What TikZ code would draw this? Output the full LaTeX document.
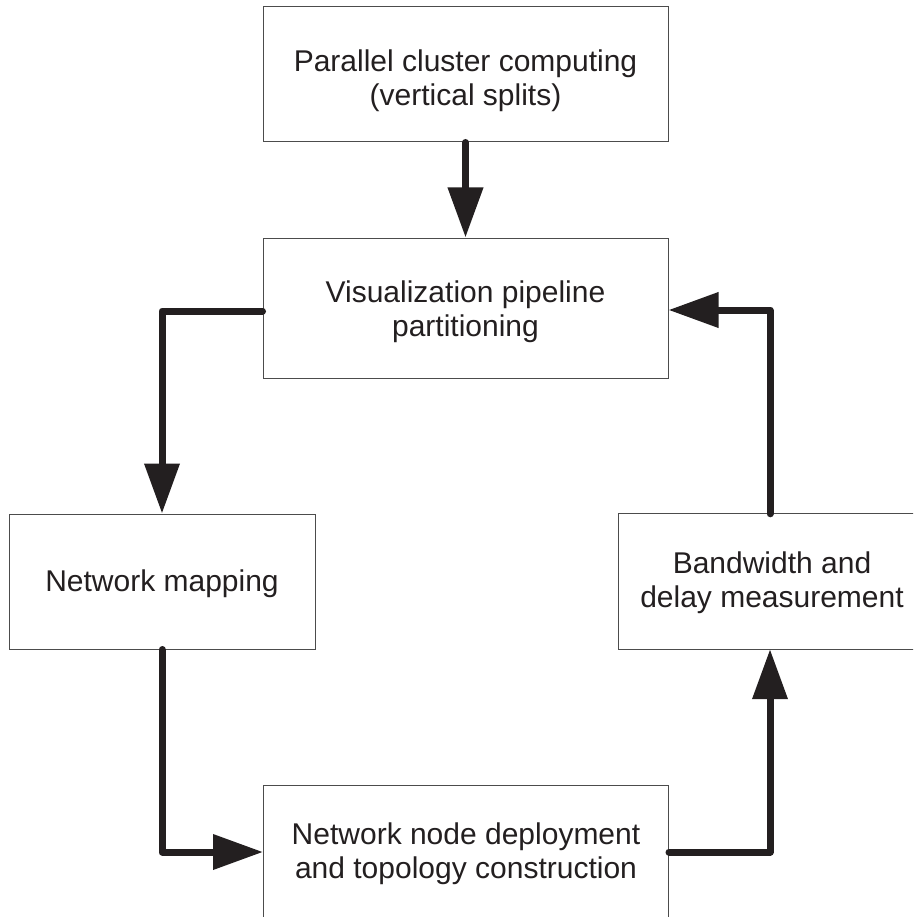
\documentclass[tikz,border=0pt]{standalone}
\usepackage{fontspec}
\setmainfont{Liberation Sans}
\usetikzlibrary{arrows.meta}
\definecolor{ink}{HTML}{231F20}
\tikzset{
  frame/.style={draw=black!70, line width=1pt},
  stagebox/.style={frame, fill=white, inner sep=0pt},
  wide/.style={stagebox, minimum width=405pt},
  narrow/.style={stagebox, minimum width=306pt, minimum height=135pt},
  caption/.style={text=ink, align=center, inner sep=0pt,
    font=\fontsize{30}{34}\selectfont},
  flow/.style={draw=ink, line width=7pt, line cap=round, line join=round,
    -{Triangle[length=50pt,width=34pt]}}
}
\begin{document}
\begin{tikzpicture}[x=1pt,y=-1pt]
  \useasboundingbox (0,0) rectangle (913,917);
  \clip (0,0) rectangle (913,917);
  \fill[white] (0,0) rectangle (913,917);

  % process stages (frames)
  \node[wide, minimum height=135pt] (par) at (465.5,74.5) {};
  \node[wide, minimum height=140pt] (vis) at (465.5,308)  {};
  \node[narrow] (map) at (162,581.5) {};
  % the measurement frame runs off the right margin
  \node[inner sep=0pt, minimum width=300pt, minimum height=135pt, anchor=west] (bwd) at (618,581.5) {};
  \draw[frame] (bwd.north east) -- (bwd.north west) -- (bwd.south west) -- (bwd.south east);
  \node[wide, minimum height=134pt] (dep) at (466,852) {};

  % stage labels
  \node[caption] (par-t) at (465.5,80.5) {Parallel cluster computing\\(vertical splits)};
  \node[caption] (vis-t) at (465.5,311.5) {Visualization pipeline\\partitioning};
  \node[caption] (map-t) at (162,583.5) {Network mapping};
  \node[caption] (bwd-t) at (772,582.5) {Bandwidth and\\delay measurement};
  \node[caption] (dep-t) at (466,853.5) {Network node deployment\\and topology construction};

  % bend points of the loop
  \coordinate (c1) at (162,311);
  \coordinate (c2) at (162,852);
  \coordinate (c3) at (770,852);
  \coordinate (c4) at (770,310);

  % connectors
  \draw[flow] (par.south) -- (vis.north);
  \draw[flow] (vis.west |- c1) -- (c1) -- (map.north);
  \draw[flow] (map.south) -- (c2) -- (dep.west);
  \draw[flow] (dep.east) -- (c3) -- (bwd.south -| c3);
  \draw[flow] (bwd.north -| c4) -- (c4) -- (vis.east |- c4);
\end{tikzpicture}
\end{document}
